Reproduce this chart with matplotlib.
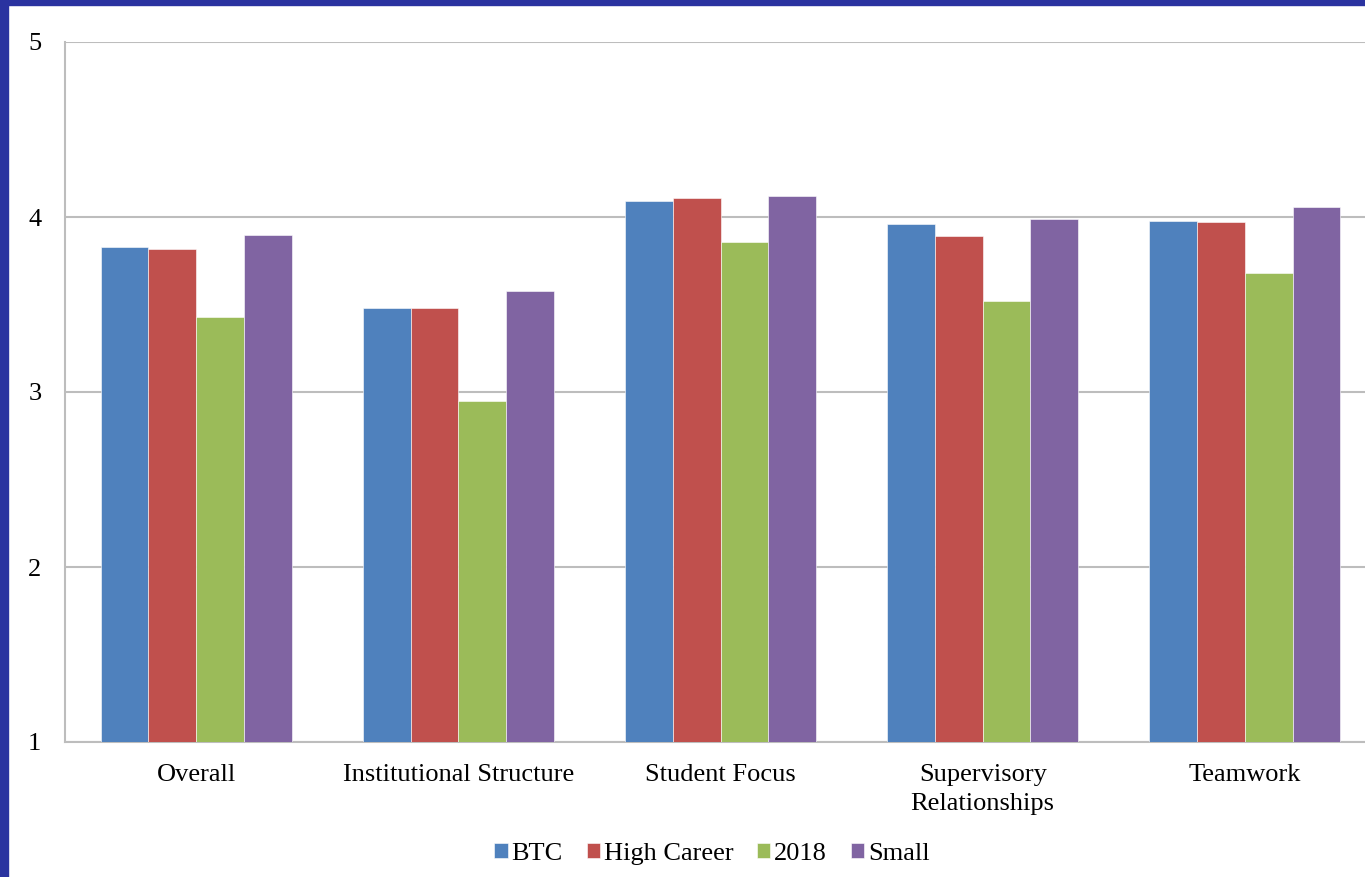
import matplotlib.pyplot as plt
import numpy as np
from matplotlib.patches import Rectangle

plt.rcParams['font.family'] = ['Liberation Serif', 'DejaVu Serif']

# Dados
categories = ['Overall', 'Institutional Structure', 'Student Focus',
              'Supervisory\nRelationships', 'Teamwork']
btc = [3.83, 3.48, 4.09, 3.96, 3.98]
high_career = [3.82, 3.48, 4.11, 3.89, 3.97]
y2018 = [3.43, 2.95, 3.86, 3.52, 3.68]
small = [3.90, 3.58, 4.12, 3.99, 4.06]

series = [('BTC', btc, '#4F81BD'),
          ('High Career', high_career, '#C0504D'),
          ('2018', y2018, '#9BBB59'),
          ('Small', small, '#8064A2')]

fig = plt.figure(figsize=(13.65, 8.77), dpi=100)
ax = fig.add_axes([65 / 1365, 1 - 742 / 877, 1311 / 1365, 700 / 877])

x = np.arange(len(categories))
bar_width = 0.182
for i, (name, vals, color) in enumerate(series):
    ax.bar(x + (i - 1.5) * bar_width, vals, bar_width, bottom=0,
           color=color, label=name, edgecolor='white', linewidth=0.4, zorder=3)

ax.set_ylim(1, 5)
ax.set_xlim(-0.5, len(categories) - 0.5)
ax.set_yticks([1, 2, 3, 4, 5])
ax.yaxis.grid(True, color='#BDBDBD', linewidth=1.5)
ax.set_axisbelow(True)
for s in ['top', 'right']:
    ax.spines[s].set_visible(False)
ax.spines['left'].set_color('#BDBDBD')
ax.spines['bottom'].set_color('#BDBDBD')
ax.spines['left'].set_linewidth(1.5)
ax.spines['bottom'].set_linewidth(1.5)

ax.set_xticks(x)
ax.set_xticklabels(categories, fontsize=19, linespacing=1.4)
ax.tick_params(axis='x', length=0, pad=16)
ax.tick_params(axis='y', length=0, pad=17, labelsize=19)

ax.legend(loc='center', bbox_to_anchor=((712 - 65) / 1311, -0.16), ncol=4,
          frameon=False, fontsize=19, handlelength=0.5, handleheight=0.5,
          handletextpad=0.15, columnspacing=0.9)

# moldura azul
fig.patches.append(Rectangle((0, 0), 8 / 1365, 1, transform=fig.transFigure,
                             color='#2A33A0', zorder=10))
fig.patches.append(Rectangle((0, 1 - 5 / 877), 1, 5 / 877, transform=fig.transFigure,
                             color='#2A33A0', zorder=10))

fig.savefig('out.png', dpi=100)
